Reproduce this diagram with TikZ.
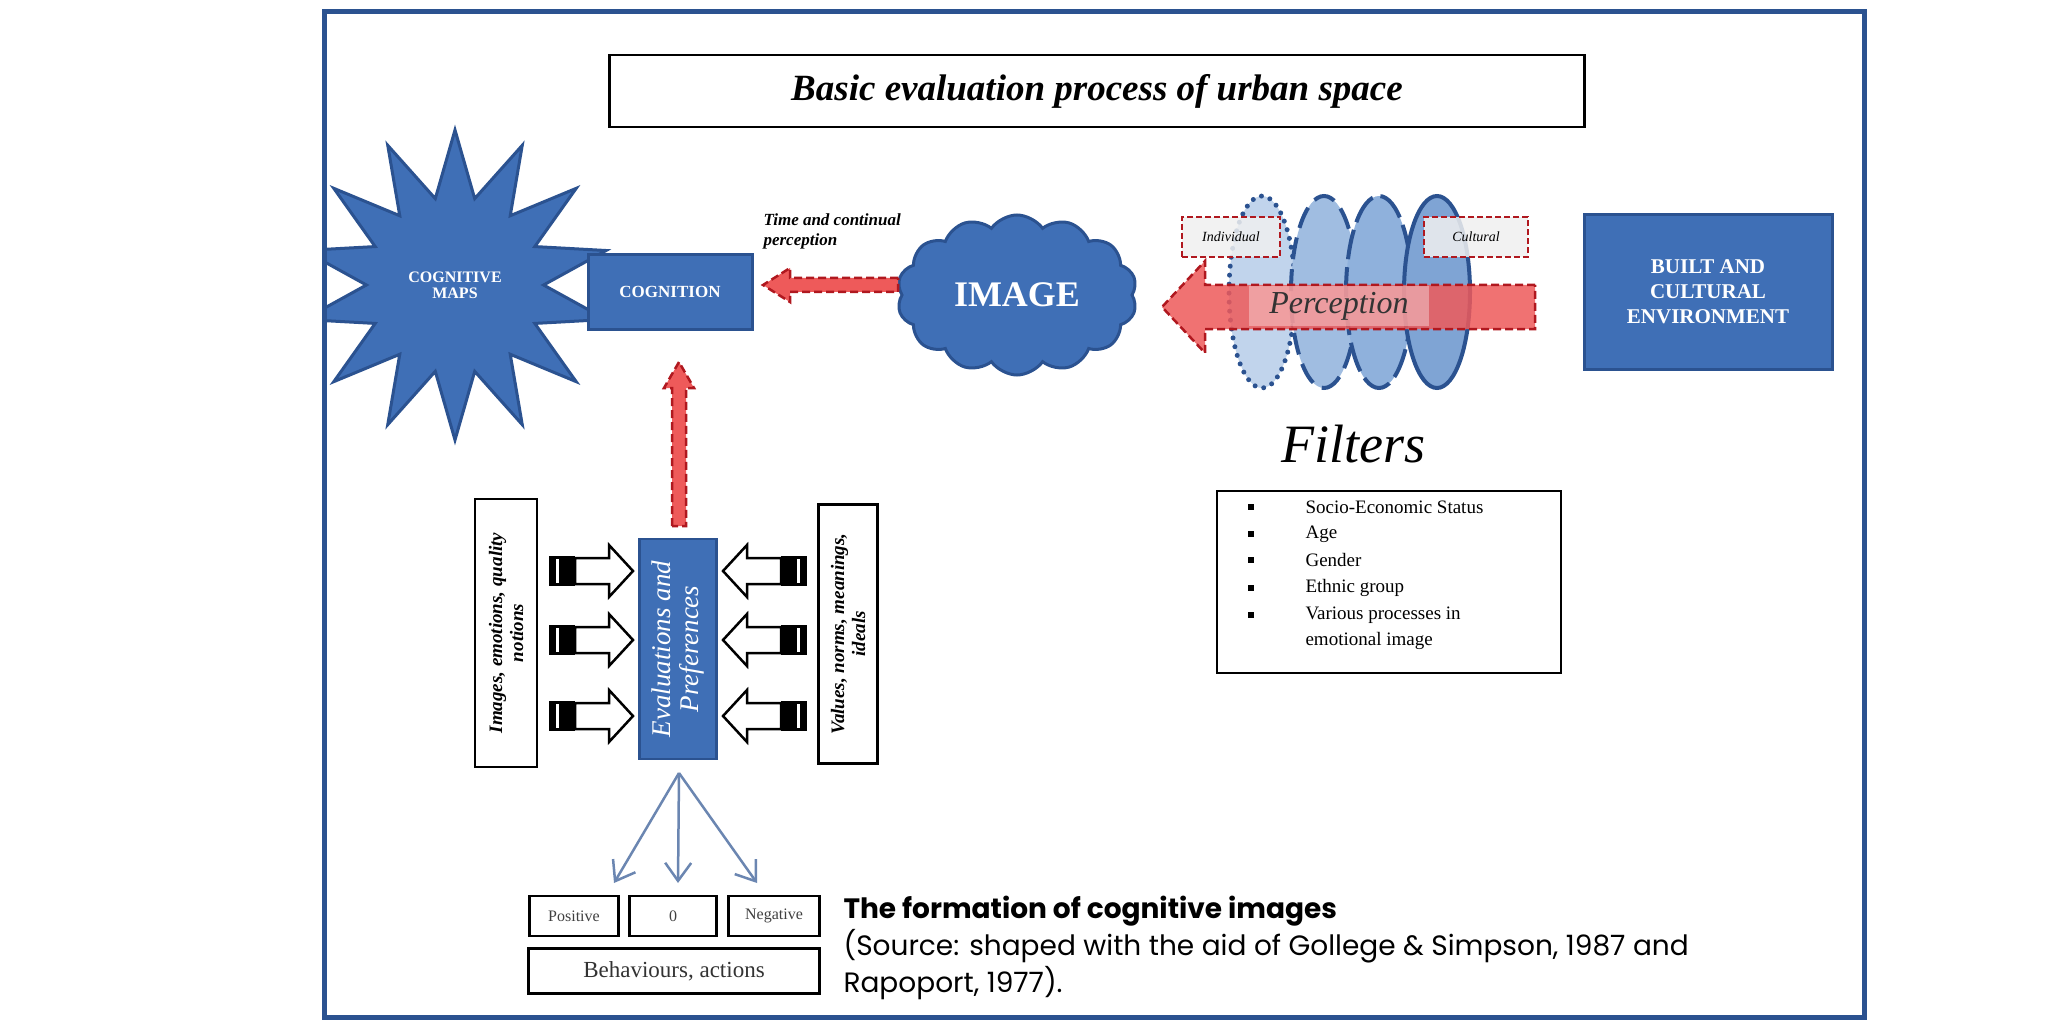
\documentclass[tikz,border=0pt]{standalone}
\usepackage{fontspec}
\setmainfont{Liberation Serif}
\newfontfamily\capfont{Poppins}
\usetikzlibrary{shapes.geometric,shapes.symbols,arrows.meta}
\definecolor{bfill}{HTML}{3F6FB6}
\definecolor{bline}{HTML}{2B5290}
\definecolor{ell}{HTML}{8FB1DC}
\definecolor{rarrow}{HTML}{EE5A5A}
\definecolor{rline}{HTML}{B0181F}
\tikzset{
 bluebox/.style={draw=bline,line width=3pt,fill=bfill,text=white,align=center,font=\bfseries},
 blk/.style={draw=black,line width=2.5pt,fill=white,align=center},
 redarrow/.style={fill=rarrow,draw=rline,line width=2.5pt,dash pattern=on 8pt off 4pt},
 redbox/.style={draw=rline,line width=2.5pt,dash pattern=on 6pt off 3pt,fill=white!88!gray,fill opacity=0.85,text opacity=1,minimum height=40pt,font=\fontsize{14}{14}\selectfont\itshape},
 bluearr/.style={draw=bline!70,line width=2.5pt,-{Straight Barb[length=18pt,width=26pt]}},
 filt/.style={ellipse,minimum width=66pt,minimum height=192pt,fill=ell,draw=bline,line width=4pt},
 blab/.style={rotate=90,align=center,font=\fontsize{19}{21}\selectfont\bfseries\itshape},
}
\newcommand{\hollowR}[2]{%
 \fill[black] (#1,#2-15) rectangle (#1+26,#2+15);
 \fill[white] (#1+7,#2-12) rectangle (#1+10,#2+12);
 \draw[line width=2.5pt,fill=white,line join=miter] (#1+26,#2-13) -- (#1+60,#2-13) -- (#1+60,#2-26) -- (#1+84,#2) -- (#1+60,#2+26) -- (#1+60,#2+13) -- (#1+26,#2+13) -- cycle;}
\newcommand{\hollowL}[2]{%
 \fill[black] (#1,#2-15) rectangle (#1-26,#2+15);
 \fill[white] (#1-7,#2-12) rectangle (#1-10,#2+12);
 \draw[line width=2.5pt,fill=white,line join=miter] (#1-26,#2-13) -- (#1-60,#2-13) -- (#1-60,#2-26) -- (#1-84,#2) -- (#1-60,#2+26) -- (#1-60,#2+13) -- (#1-26,#2+13) -- cycle;}
\begin{document}
\begin{tikzpicture}[x=1pt,y=-1pt]
\useasboundingbox[fill=white] (0,0) rectangle (2048,1024);
% star
\begin{scope}
\clip (326,0) rectangle (2048,1024);
\node[star,star points=14,star point ratio=1.75,minimum size=310pt,fill=bfill,draw=bline,line width=3pt,text=white,align=center,font=\fontsize{16}{16}\selectfont\bfseries] (maps) at (455,285) {COGNITIVE\\MAPS};
\end{scope}
\draw[bline,line width=5pt] (324,12) rectangle (1864,1017);
% title
\node[blk,minimum width=975pt,minimum height=72pt,font=\fontsize{37}{40}\selectfont\bfseries\itshape] (title) at (1097,91) {Basic evaluation process of urban space};
\node[bluebox,minimum width=164pt,minimum height=74pt,font=\fontsize{17}{18}\selectfont\bfseries] (cog) at (670,292) {COGNITION};
% cloud
\node[cloud,cloud puffs=14,cloud puff arc=110,aspect=1.6,minimum width=240pt,minimum height=160pt,fill=bfill,draw=bline,line width=3pt,text=white,font=\fontsize{36}{36}\selectfont\bfseries] (img) at (1017,295) {IMAGE};
\node[align=left,font=\fontsize{17}{20}\selectfont\bfseries\itshape,anchor=west] (time) at (760,231) {Time and continual\\perception};
% red arrow image -> cognition
\draw[redarrow] (898,278) -- (790,278) -- (790,268) -- (763,285) -- (790,302) -- (790,292) -- (898,292) -- cycle;
% filters ellipses
\node[filt,dash pattern=on 0pt off 9pt,line cap=round,line width=5pt,fill=ell!55] (f1) at (1262,292) {};
\node[filt,dash pattern=on 22pt off 10pt,fill=ell!85] (f2) at (1324,292) {};
\node[filt,dash pattern=on 30pt off 8pt] (f3) at (1379,292) {};
\node[filt,fill=ell!80!bfill] (f4) at (1437,292) {};
% perception arrow
\draw[redarrow,fill opacity=0.85] (1535,285) -- (1205,285) -- (1205,261) -- (1162,307) -- (1205,353) -- (1205,329) -- (1535,329) -- cycle;
\node[fill=white,fill opacity=0.35,text opacity=1,minimum width=180pt,minimum height=40pt,font=\fontsize{32}{32}\selectfont\itshape,text=black!80] (perc) at (1339,306) {Perception};
\node[redbox,minimum width=98pt] (ind) at (1231,237) {Individual};
\node[redbox,minimum width=104pt] (cul) at (1476,237) {Cultural};
\node[bluebox,minimum width=248pt,minimum height=155pt,font=\fontsize{21}{25}\selectfont\bfseries] (built) at (1708,292) {BUILT AND\\CULTURAL\\ENVIRONMENT};
% filters
\node[font=\fontsize{54}{54}\selectfont\itshape] (filters) at (1353,444) {Filters};
\node[blk,minimum width=344pt,minimum height=182pt] (flist) at (1389,582) {};
\foreach \y/\t in {507/Socio-Economic Status,534/Age,560/Gender,588/Ethnic group,615/Various processes in,641/emotional image}{
 \node[anchor=west,font=\fontsize{19}{19}\selectfont] at (1302,\y) {\t};}
\foreach \y in {507,534,560,588,615}{\fill (1248,\y-3) rectangle (1254,\y+3);}
% evaluation column
\node[blk,minimum width=62pt,minimum height=268pt] (lbox) at (506,633) {};
\node[blab] at (506,633) {Images, emotions, quality\\notions};
\node[blk,minimum width=59pt,minimum height=259pt] (rbox) at (848,634) {};
\node[blab] at (848,634) {Values, norms, meanings,\\ideals};
\node[bluebox,line width=2.5pt,minimum width=77pt,minimum height=220pt] (eval) at (678,649) {};
\node[rotate=90,align=center,text=white,font=\fontsize{27}{28}\selectfont\itshape] at (678,649) {Evaluations and\\Preferences};
\draw[redarrow] (672,526) -- (672,388) -- (664,388) -- (679,362) -- (694,388) -- (686,388) -- (686,526) -- cycle;
\hollowR{549}{571}\hollowR{549}{640}\hollowR{549}{716}
\hollowL{807}{571}\hollowL{807}{640}\hollowL{807}{716}
% outcomes
\node[blk,minimum width=89pt,minimum height=40pt,font=\fontsize{16}{16}\selectfont,text=black!75] (pos) at (574,916) {Positive};
\node[blk,minimum width=87pt,minimum height=40pt,font=\fontsize{16}{16}\selectfont,text=black!75] (zero) at (673,916) {0};
\node[blk,minimum width=91pt,minimum height=40pt,font=\fontsize{16}{16}\selectfont,text=black!75] (neg) at (774,916) {Negative};
\node[blk,minimum width=291pt,minimum height=45pt,font=\fontsize{23}{23}\selectfont,text=black!80] (beh) at (674,971) {Behaviours, actions};
\coordinate (e0) at (679,773);
\draw[bluearr] (e0) -- (614,883);
\draw[bluearr] (e0) -- (678,883);
\draw[bluearr] (e0) -- (757,883);
% caption
\node[anchor=north west,align=left,font=\capfont\fontsize{28}{37}\selectfont] (cap) at (840,893) {\textbf{The formation of cognitive images}\\(Source: shaped with the aid of Gollege \& Simpson, 1987 and\\Rapoport, 1977).};
\end{tikzpicture}
\end{document}
